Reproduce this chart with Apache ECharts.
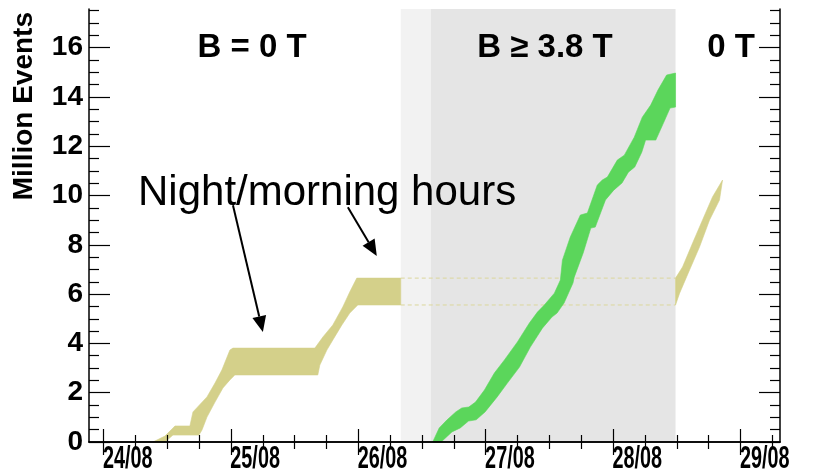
<!DOCTYPE html>
<html><head><meta charset="utf-8">
<script src="https://cdn.jsdelivr.net/npm/echarts@6/dist/echarts.min.js"></script>
<style>html,body{margin:0;padding:0;background:#fff}#c{width:823px;height:475px}</style>
</head><body><div id="c"></div>
<script>
// ---- axes / ticks ----
const xMin = 23.886, xMax = 29.31;
const yMin = 0, yMax = 17.57;
const majorDays = [24, 25, 26, 27, 28, 29];
const minorDays = [24.25, 24.5, 24.75, 25.25, 25.5, 25.75, 26.25, 26.5, 26.75, 27.25, 27.5, 27.75, 28.25, 28.5, 28.75, 29.25];
const dateLabelPos = [24.19, 25.19, 26.19, 27.19, 28.19, 29.19];
const dateLabels = ['24/08', '25/08', '26/08', '27/08', '28/08', '29/08'];
const yMajor = [0, 2, 4, 6, 8, 10, 12, 14, 16];
const yMinor = [0.5, 1, 1.5, 2.5, 3, 3.5, 4.5, 5, 5.5, 6.5, 7, 7.5, 8.5, 9, 9.5, 10.5, 11, 11.5, 12.5, 13, 13.5, 14.5, 15, 15.5, 16.5, 17, 17.5];

// ---- shaded periods (days) ----
const rampPeriod = [26.333, 26.569];
const fieldPeriod = [26.569, 28.49];

// ---- B = 0 T sample: upper and lower edges of the band (day, million events) ----
const zeroFieldUpper = [[24.388, 0], [24.482, 0.24], [24.561, 0.65], [24.678, 0.65], [24.702, 1.22], [24.812, 1.83], [24.875, 2.39], [24.929, 2.92], [24.992, 3.73], [25.016, 3.81], [25.659, 3.81], [25.722, 4.26], [25.800, 4.75], [25.878, 5.48], [25.933, 6.09], [25.988, 6.65], [26.333, 6.65]];
const zeroFieldLower = [[24.388, 0], [24.482, 0], [24.545, 0.28], [24.749, 0.28], [24.773, 0.49], [24.812, 1.01], [24.875, 1.62], [24.937, 2.19], [24.992, 2.52], [25.031, 2.72], [25.682, 2.72], [25.698, 3.12], [25.753, 3.73], [25.800, 4.14], [25.871, 4.75], [25.933, 5.23], [25.996, 5.56], [26.333, 5.56]];
// ---- back to 0 T ----
const zeroField2Upper = [[28.490, 6.65], [28.545, 7.10], [28.624, 8.07], [28.702, 9.01], [28.780, 9.94], [28.859, 10.63]];
const zeroField2Lower = [[28.490, 5.56], [28.522, 6.04], [28.600, 6.98], [28.678, 7.91], [28.757, 9.01], [28.835, 9.82]];
// ---- B >= 3.8 T ----
const fieldUpper = [[26.584, 0], [26.635, 0.57], [26.695, 0.89], [26.765, 1.22], [26.812, 1.38], [26.867, 1.42], [26.92, 1.62], [26.99, 2.11], [27.068, 2.80], [27.147, 3.33], [27.249, 4.06], [27.343, 4.83], [27.406, 5.27], [27.46, 5.56], [27.539, 6.04], [27.586, 6.57], [27.602, 7.38], [27.664, 8.32], [27.743, 9.21], [27.798, 9.29], [27.876, 10.43], [27.915, 10.63], [27.955, 10.75], [28.033, 11.44], [28.088, 11.64], [28.166, 12.37], [28.229, 13.18], [28.295, 13.67], [28.352, 14.28], [28.42, 14.89], [28.49, 14.97]];
const fieldLower = [[26.65, 0], [26.735, 0.41], [26.80, 0.57], [26.865, 0.85], [26.925, 0.90], [26.995, 1.22], [27.09, 1.83], [27.17, 2.39], [27.265, 3.04], [27.35, 3.85], [27.445, 4.62], [27.52, 5.07], [27.56, 5.23], [27.615, 5.64], [27.685, 6.45], [27.695, 6.69], [27.765, 7.67], [27.825, 8.68], [27.86, 8.72], [27.94, 9.82], [28.005, 10.22], [28.07, 10.51], [28.12, 10.95], [28.17, 11.16], [28.225, 11.76], [28.255, 12.25], [28.335, 12.25], [28.395, 12.94], [28.447, 13.55], [28.49, 13.59]];
// ---- dashed continuation of the 0 T sample ----
const dashTop = [[26.333, 6.65], [28.49, 6.65]];
const dashBottom = [[26.333, 5.56], [28.49, 5.56]];
// ---- annotation arrows [x1, y1, x2, y2] ----
const arrows = [[25.016, 9.61, 25.251, 4.46], [25.918, 9.53, 26.145, 7.55]];

const YELLOW = '#d4d08a', GREEN = '#5bd65b';
const FONT = "'Liberation Sans', Arial, Helvetica, sans-serif";

function ring(upper, lower) { return upper.concat(lower.slice().reverse()); }
function polySeries(data, color) {
  return {
    type: 'custom', z: 3, data: data, silent: true,
    encode: { x: 0, y: 1 },
    renderItem: function (params, api) {
      if (params.dataIndexInside !== 0) return null;
      const pts = [];
      for (let i = 0; i < params.dataInsideLength; i++) {
        pts.push(api.coord([api.value(0, i), api.value(1, i)]));
      }
      return { type: 'polygon', shape: { points: pts }, style: { fill: color, stroke: color, lineWidth: 0.6 } };
    }
  };
}

const common = { type: 'value', min: xMin, max: xMax, z: 10 };
const tickStyle = { color: '#000', width: 1.2 };
const chart = echarts.init(document.getElementById('c'));
chart.setOption({
  animation: false,
  backgroundColor: '#fff',
  grid: { left: 89, top: 9, width: 691, height: 433, containLabel: false },
  xAxis: [
    Object.assign({}, common, { position: 'bottom', axisLine: { show: true, lineStyle: { color: '#000', width: 1.5 } },
      axisTick: { show: true, inside: true, length: 13, customValues: majorDays, lineStyle: tickStyle },
      axisLabel: { show: false }, splitLine: { show: false } }),
    Object.assign({}, common, { position: 'bottom', axisLine: { show: false },
      axisTick: { show: true, inside: true, length: 7, customValues: minorDays, lineStyle: tickStyle },
      axisLabel: { show: false }, splitLine: { show: false } }),
    Object.assign({}, common, { position: 'top', axisLine: { show: true, lineStyle: { color: '#000', width: 1.5 } },
      axisTick: { show: true, inside: true, length: 13, customValues: majorDays, lineStyle: tickStyle },
      axisLabel: { show: false }, splitLine: { show: false } }),
    Object.assign({}, common, { position: 'top', axisLine: { show: false },
      axisTick: { show: true, inside: true, length: 7, customValues: minorDays, lineStyle: tickStyle },
      axisLabel: { show: false }, splitLine: { show: false } })
  ],
  yAxis: [
    { type: 'value', min: yMin, max: yMax, position: 'left', z: 10, axisLine: { show: true, lineStyle: { color: '#000', width: 1.5 } },
      axisTick: { show: true, inside: true, length: 21, customValues: yMajor, lineStyle: tickStyle },
      axisLabel: { show: true, customValues: yMajor, margin: 6, color: '#000', fontSize: 28, fontWeight: 'bold', fontFamily: FONT },
      splitLine: { show: false } },
    { type: 'value', min: yMin, max: yMax, position: 'left', z: 10, axisLine: { show: false },
      axisTick: { show: true, inside: true, length: 10, customValues: yMinor, lineStyle: tickStyle },
      axisLabel: { show: false }, splitLine: { show: false } },
    { type: 'value', min: yMin, max: yMax, position: 'right', z: 10, axisLine: { show: true, lineStyle: { color: '#000', width: 1.5 } },
      axisTick: { show: true, inside: true, length: 21, customValues: yMajor, lineStyle: tickStyle },
      axisLabel: { show: false }, splitLine: { show: false } },
    { type: 'value', min: yMin, max: yMax, position: 'right', z: 10, axisLine: { show: false },
      axisTick: { show: true, inside: true, length: 10, customValues: yMinor, lineStyle: tickStyle },
      axisLabel: { show: false }, splitLine: { show: false } }
  ],
  series: [
    { type: 'line', data: [], z: 1, silent: true,
      markArea: { silent: true, data: [
        [{ xAxis: rampPeriod[0], itemStyle: { color: '#f2f2f2' } }, { xAxis: rampPeriod[1] }],
        [{ xAxis: fieldPeriod[0], itemStyle: { color: '#e5e5e5' } }, { xAxis: fieldPeriod[1] }]
      ] } },
    polySeries(ring(zeroFieldUpper, zeroFieldLower), YELLOW),
    polySeries(ring(zeroField2Upper, zeroField2Lower), YELLOW),
    polySeries(ring(fieldUpper, fieldLower), GREEN),
    { type: 'line', data: dashTop, z: 2, showSymbol: false, silent: true, lineStyle: { color: '#dcd79c', width: 1, type: [4, 3] } },
    { type: 'line', data: dashBottom, z: 2, showSymbol: false, silent: true, lineStyle: { color: '#dcd79c', width: 1, type: [4, 3] } },
    { type: 'custom', z: 5, silent: true, data: arrows, encode: { x: [0, 2], y: [1, 3] },
      renderItem: function (params, api) {
        const p1 = api.coord([api.value(0), api.value(1)]);
        const p2 = api.coord([api.value(2), api.value(3)]);
        const dx = p2[0] - p1[0], dy = p2[1] - p1[1], L = Math.hypot(dx, dy);
        const ux = dx / L, uy = dy / L, hl = 16, hw = 7;
        const b = [p2[0] - ux * hl, p2[1] - uy * hl];
        return { type: 'group', children: [
          { type: 'line', shape: { x1: p1[0], y1: p1[1], x2: b[0], y2: b[1] }, style: { stroke: '#000', lineWidth: 2 } },
          { type: 'polygon', shape: { points: [p2, [b[0] - uy * hw, b[1] + ux * hw], [b[0] + uy * hw, b[1] - ux * hw]] }, style: { fill: '#000' } }
        ] };
      } },
    // date tick labels of the time axis (condensed bold, as in the original)
    { type: 'custom', z: 10, silent: true, clip: false,
      data: dateLabelPos.map(function (p, i) { return { value: [p, yMin], name: dateLabels[i] }; }),
      encode: { x: 0, y: 1 },
      renderItem: function (params, api) {
        const c = api.coord([api.value(0), api.value(1)]);
        return { type: 'text', x: c[0], y: c[1] + 2, scaleX: 0.64,
          style: { text: dateLabels[params.dataIndex], font: 'bold 31px ' + FONT, fill: '#000', textAlign: 'center', textVerticalAlign: 'top' } };
      } }
  ],
  graphic: [
    { type: 'text', x: 24, y: 12, rotation: Math.PI / 2, style: { text: 'Million Events', font: 'bold 28px ' + FONT, fill: '#000', textAlign: 'right', textVerticalAlign: 'middle' } },
    { type: 'text', x: 252, y: 48, z: 20, style: { text: 'B = 0 T', font: 'bold 33px ' + FONT, fill: '#000', textAlign: 'center', textVerticalAlign: 'middle' } },
    { type: 'text', x: 545, y: 48, z: 20, style: { text: 'B \u2265 3.8 T', font: 'bold 33px ' + FONT, fill: '#000', textAlign: 'center', textVerticalAlign: 'middle' } },
    { type: 'text', x: 731, y: 48, z: 20, style: { text: '0 T', font: 'bold 33px ' + FONT, fill: '#000', textAlign: 'center', textVerticalAlign: 'middle' } },
    { type: 'text', x: 138, y: 193, z: 20, style: { text: 'Night/morning hours', font: '42px ' + FONT, fill: '#000', textAlign: 'left', textVerticalAlign: 'middle' } }
  ]
});
</script></body></html>
